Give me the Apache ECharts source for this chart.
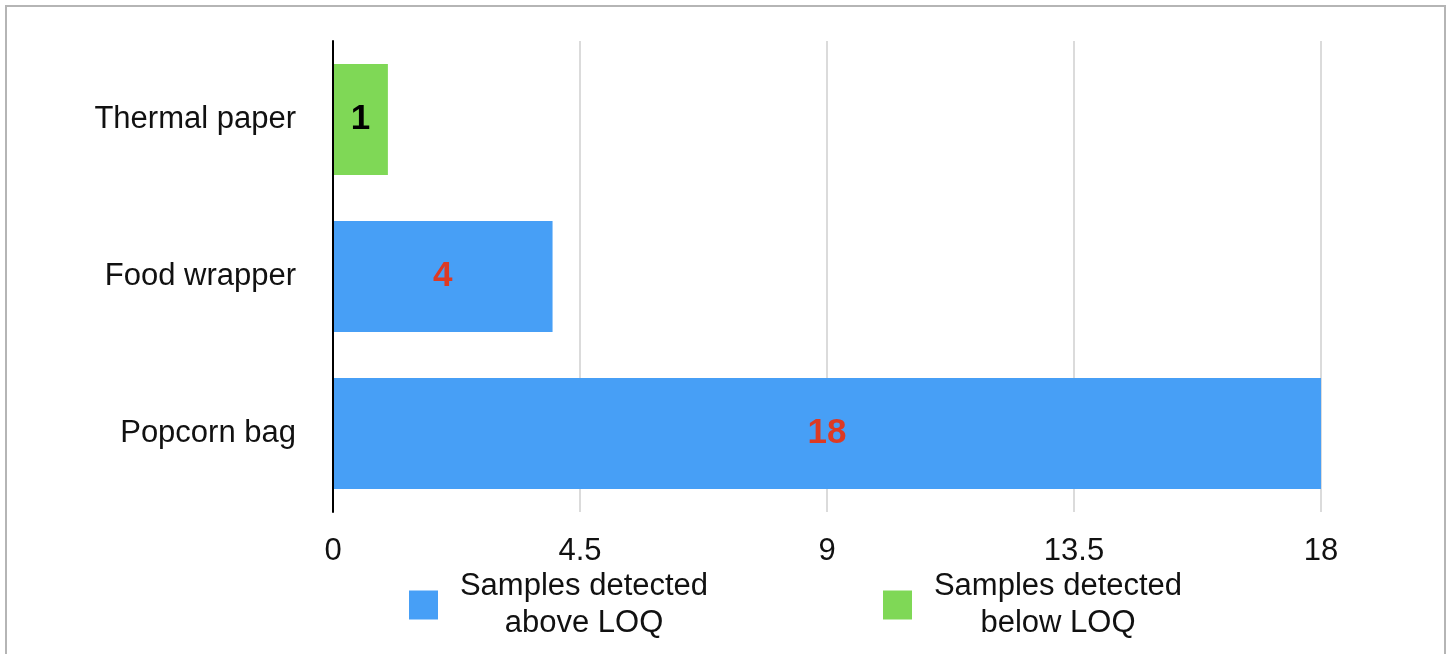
<!DOCTYPE html>
<html><head><meta charset="utf-8">
<script src="https://cdn.jsdelivr.net/npm/echarts@6/dist/echarts.min.js"></script>
<style>html,body{margin:0;padding:0;background:#fff}#c{width:1450px;height:654px}</style>
</head><body><div id="c"></div>
<script>
const categories = ['Popcorn bag', 'Food wrapper', 'Thermal paper'];
const aboveLOQ = [18, 4, '-'];
const belowLOQ = ['-', '-', 1];
const xTicks = [0, 4.5, 9, 13.5, 18];
const seriesNames = ['Samples detected\nabove LOQ', 'Samples detected\nbelow LOQ'];

const chart = echarts.init(document.getElementById('c'));
const font = 'Liberation Sans, Arial, Helvetica, sans-serif';
chart.setOption({
  animation: false,
  graphic: [{type:'rect', shape:{x:6, y:6, width:1439, height:670}, style:{fill:'none', stroke:'#b5b5b5', lineWidth:2}, silent:true}],
  grid: {left: 333, right: 129, top: 41, bottom: 142},
  xAxis: {
    type: 'value', min: xTicks[0], max: xTicks[xTicks.length-1], interval: 4.5,
    axisLine: {show: false}, axisTick: {show: false},
    splitLine: {lineStyle: {color: '#cfcfcf', width: 1.5}},
    axisLabel: {color: '#111', fontSize: 31, fontFamily: font, margin: 24,
      formatter: v => xTicks.includes(v) ? String(v) : ''}
  },
  yAxis: {
    type: 'category', data: categories, z: 5,
    axisLine: {lineStyle: {color: '#000', width: 2}}, axisTick: {show: false},
    axisLabel: {color: '#111', fontSize: 31, fontFamily: font, margin: 37, padding: [6, 0, 0, 0]}
  },
  legend: {
    left: 404, top: 566, itemWidth: 29, itemHeight: 29, itemGap: 158,
    icon: 'rect',
    formatter: n => '{t|' + n.split('\n').join('}\n{t|') + '}',
    textStyle: {rich: {t: {fontSize: 31, fontFamily: font, color: '#111', width: 282, align: 'center', lineHeight: 37}}},
    data: seriesNames
  },
  series: [
    {name: seriesNames[0], type: 'bar', stack: 's', data: aboveLOQ, barWidth: '70.7%',
      itemStyle: {color: '#479ff6'},
      label: {show: true, position: 'inside', fontSize: 35, fontWeight: 'bold', color: '#dc3a24', fontFamily: font, padding: [6, 0, 0, 0]}},
    {name: seriesNames[1], type: 'bar', stack: 's', data: belowLOQ, barWidth: '70.7%',
      itemStyle: {color: '#7fd856'},
      label: {show: true, position: 'inside', fontSize: 35, fontWeight: 'bold', color: '#000', fontFamily: font, padding: [6, 0, 0, 0]}}
  ]
});
</script></body></html>
